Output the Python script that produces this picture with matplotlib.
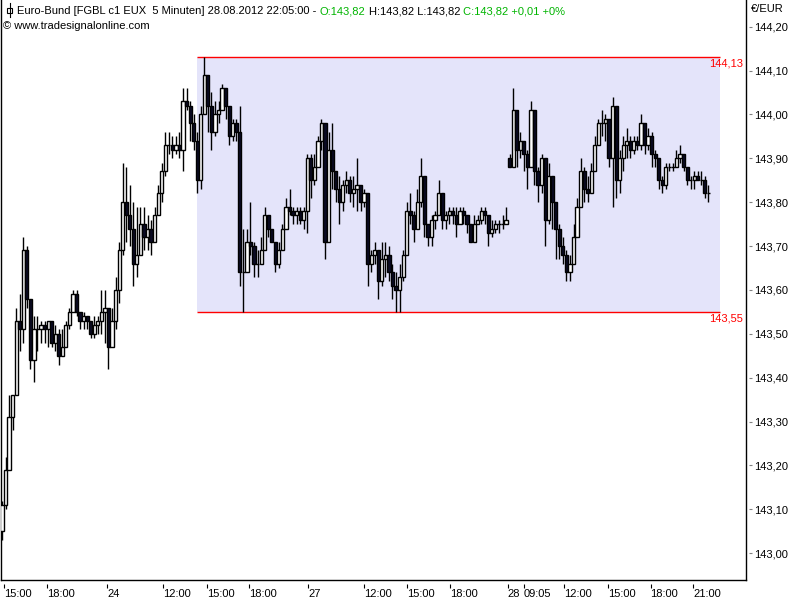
import matplotlib.pyplot as plt
from matplotlib.patches import Rectangle
from matplotlib.lines import Line2D
import numpy as np

plt.rcParams['font.family'] = ['Liberation Sans', 'DejaVu Sans']

# Euro-Bund, 15-min candles from 23.08. 15:00 to 28.08.2012 22:00
first_open = 143.05
open_28 = 143.90      # opening gap on 28.08.
gap_idx = 143

closes = [
    143.11, 143.19, 143.31, 143.36, 143.53, 143.51, 143.69, 143.58, 143.44, 143.51,
    143.51, 143.52, 143.51, 143.53, 143.48, 143.50, 143.45, 143.47, 143.52, 143.55,
    143.59, 143.55, 143.53, 143.54, 143.53, 143.50, 143.52, 143.53, 143.55, 143.56,
    143.47, 143.53, 143.60, 143.69, 143.80, 143.77, 143.74, 143.66, 143.68, 143.75,
    143.72, 143.74, 143.71, 143.77, 143.82, 143.87, 143.93, 143.93, 143.92, 143.93,
    143.92, 144.03, 144.02, 143.98, 143.94, 143.85, 144.00, 144.09, 144.02, 143.96,
    144.00, 144.01, 144.06, 144.02, 143.95, 143.98, 143.96, 143.64, 143.64, 143.71,
    143.70, 143.66, 143.66, 143.69, 143.77, 143.74, 143.71, 143.66, 143.69, 143.74,
    143.79, 143.78, 143.77, 143.78, 143.76, 143.78, 143.90, 143.85, 143.88, 143.94,
    143.98, 143.71, 143.92, 143.87, 143.83, 143.80, 143.84, 143.85, 143.82, 143.83,
    143.84, 143.80, 143.82, 143.66, 143.68, 143.69, 143.62, 143.67, 143.68, 143.64,
    143.61, 143.60, 143.63, 143.68, 143.78, 143.77, 143.74, 143.80, 143.86, 143.75,
    143.72, 143.76, 143.77, 143.82, 143.76, 143.77, 143.78, 143.77, 143.75, 143.78,
    143.77, 143.75, 143.71, 143.75, 143.76, 143.78, 143.77, 143.73, 143.74, 143.75,
    143.75, 143.75, 143.76, 143.88, 144.01, 143.92, 143.94, 143.91, 143.88, 144.01,
    143.87, 143.84, 143.90, 143.76, 143.86, 143.80, 143.74, 143.70, 143.68, 143.64,
    143.66, 143.72, 143.79, 143.87, 143.83, 143.82, 143.87, 143.93, 143.98, 143.98,
    143.99, 143.90, 144.02, 143.85, 143.90, 143.93, 143.94, 143.92, 143.94, 143.93,
    143.98, 143.93, 143.95, 143.91, 143.90, 143.85, 143.84, 143.88, 143.88, 143.88,
    143.90, 143.91, 143.88, 143.85, 143.85, 143.86, 143.85, 143.85, 143.82, 143.82,
]
highs = [
    143.12, 143.22, 143.36, 143.36, 143.56, 143.59, 143.72, 143.70, 143.58, 143.54,
    143.54, 143.53, 143.53, 143.53, 143.53, 143.52, 143.51, 143.51, 143.53, 143.56,
    143.60, 143.60, 143.55, 143.55, 143.54, 143.53, 143.54, 143.54, 143.60, 143.60,
    143.53, 143.56, 143.63, 143.71, 143.89, 143.88, 143.84, 143.80, 143.79, 143.79,
    143.79, 143.77, 143.76, 143.79, 143.84, 143.89, 143.96, 143.96, 143.95, 143.95,
    143.96, 144.06, 144.06, 144.03, 144.00, 143.96, 144.02, 144.13, 144.09, 144.05,
    144.03, 144.03, 144.07, 144.06, 144.02, 143.99, 143.99, 144.02, 143.74, 143.74,
    143.80, 143.71, 143.69, 143.72, 143.79, 143.76, 143.74, 143.71, 143.71, 143.75,
    143.81, 143.83, 143.79, 143.79, 143.79, 143.79, 143.91, 143.91, 143.91, 143.95,
    143.99, 143.94, 143.96, 143.98, 143.86, 143.86, 143.85, 143.87, 143.86, 143.86,
    143.90, 143.83, 143.83, 143.82, 143.69, 143.71, 143.68, 143.71, 143.71, 143.70,
    143.66, 143.64, 143.66, 143.69, 143.80, 143.82, 143.78, 143.83, 143.90, 143.86,
    143.75, 143.77, 143.78, 143.85, 143.82, 143.78, 143.79, 143.79, 143.79, 143.79,
    143.79, 143.77, 143.74, 143.77, 143.77, 143.79, 143.79, 143.77, 143.76, 143.76,
    143.76, 143.77, 143.79, 143.91, 144.06, 143.98, 143.96, 143.94, 143.92, 144.03,
    144.00, 143.88, 143.91, 143.87, 143.89, 143.86, 143.78, 143.75, 143.72, 143.69,
    143.68, 143.75, 143.81, 143.90, 143.88, 143.86, 143.89, 143.95, 143.99, 144.01,
    144.00, 143.98, 144.04, 144.02, 143.92, 143.95, 143.97, 143.95, 143.95, 143.95,
    144.00, 143.98, 143.97, 143.96, 143.92, 143.88, 143.86, 143.89, 143.89, 143.89,
    143.92, 143.93, 143.91, 143.88, 143.86, 143.87, 143.87, 143.87, 143.86, 143.84,
]
lows = [
    143.03, 143.10, 143.23, 143.28, 143.36, 143.46, 143.48, 143.56, 143.42, 143.39,
    143.46, 143.48, 143.48, 143.47, 143.47, 143.46, 143.43, 143.45, 143.47, 143.51,
    143.55, 143.54, 143.51, 143.51, 143.51, 143.49, 143.49, 143.50, 143.50, 143.48,
    143.42, 143.48, 143.51, 143.57, 143.68, 143.71, 143.70, 143.61, 143.63, 143.68,
    143.69, 143.69, 143.68, 143.71, 143.77, 143.80, 143.86, 143.91, 143.90, 143.91,
    143.90, 143.87, 144.01, 143.94, 143.92, 143.82, 143.83, 144.00, 143.96, 143.92,
    143.95, 143.98, 144.01, 143.99, 143.93, 143.94, 143.94, 143.61, 143.55, 143.64,
    143.68, 143.63, 143.63, 143.66, 143.70, 143.72, 143.71, 143.64, 143.65, 143.69,
    143.75, 143.77, 143.75, 143.75, 143.75, 143.74, 143.73, 143.81, 143.84, 143.90,
    143.92, 143.67, 143.79, 143.83, 143.80, 143.75, 143.78, 143.82, 143.80, 143.79,
    143.78, 143.78, 143.79, 143.61, 143.64, 143.66, 143.58, 143.61, 143.63, 143.62,
    143.58, 143.55, 143.55, 143.62, 143.68, 143.75, 143.71, 143.75, 143.79, 143.72,
    143.70, 143.70, 143.74, 143.77, 143.74, 143.74, 143.75, 143.75, 143.72, 143.75,
    143.75, 143.73, 143.71, 143.71, 143.75, 143.75, 143.75, 143.70, 143.72, 143.73,
    143.73, 143.74, 143.75, 143.88, 143.88, 143.88, 143.90, 143.87, 143.83, 143.92,
    143.84, 143.80, 143.82, 143.70, 143.75, 143.74, 143.67, 143.67, 143.66, 143.62,
    143.62, 143.66, 143.72, 143.79, 143.80, 143.80, 143.82, 143.87, 143.93, 143.95,
    143.94, 143.88, 143.79, 143.81, 143.82, 143.87, 143.90, 143.90, 143.91, 143.92,
    143.92, 143.91, 143.92, 143.88, 143.88, 143.83, 143.82, 143.83, 143.87, 143.87,
    143.88, 143.89, 143.87, 143.84, 143.83, 143.83, 143.85, 143.84, 143.81, 143.80,
]

tick_pos = [0.65, 12.76, 29.66, 45.44, 57.66, 69.66, 86.25, 101.97, 114.2, 126.2,
            142.5, 147.0, 158.4, 170.65, 182.7, 194.7]
tick_labels = ['15:00', '18:00', '24', '12:00', '15:00', '18:00', '27', '12:00',
               '15:00', '18:00', '28', '09:05', '12:00', '15:00', '18:00', '21:00']
price_ticks = [143.0, 143.1, 143.2, 143.3, 143.4, 143.5, 143.6,
               143.7, 143.8, 143.9, 144.0, 144.1, 144.2]

# sideways range marked on the chart
range_first = 55
box_start, box_end = 54.9, 202.3

# ---------------------------------------------------------------
c = np.array(closes)
o = np.concatenate([[first_open], c[:-1]])
o[gap_idx] = open_28
h = np.maximum(np.array(highs), np.maximum(o, c))
l = np.minimum(np.array(lows), np.minimum(o, c))
x = np.arange(len(c))

fig = plt.figure(figsize=(8, 6), dpi=100)
ax = fig.add_axes([1 / 800, 20 / 600, 744.7 / 800, 580 / 600])

hi = h[range_first:].max()
lo = l[range_first:].min()
ax.add_patch(Rectangle((box_start, lo), box_end - box_start, hi - lo,
                       facecolor='#e4e4fa', edgecolor='none', zorder=0))
ax.hlines([hi, lo], box_start, box_end, color='red', lw=1.0, zorder=1)
for val, dy in [(hi, -6), (lo, -7)]:
    ax.annotate(f'{val:.2f}'.replace('.', ','), xy=(742 / 744.7, val),
                xycoords=ax.get_yaxis_transform(), xytext=(0, dy * 0.72),
                textcoords='offset points', ha='right', va='center',
                color='red', fontsize=8)

# candles
up = c >= o
ax.vlines(x, l, h, color='black', lw=1.0, zorder=2)
ax.bar(x, np.abs(c - o), bottom=np.minimum(o, c), width=0.9,
       color=np.where(up, 'white', '#0a0a23'), edgecolor='black',
       linewidth=1.0, zorder=3)

ax.set_xlim(-0.28, 209.5)
ax.set_ylim(142.939, 144.2608)

# axes look
ax.spines['top'].set_visible(False)
for s in ['left', 'right', 'bottom']:
    ax.spines[s].set_color('black')
    ax.spines[s].set_linewidth(1.0)

ax.yaxis.tick_right()
ax.set_yticks(price_ticks)
ax.set_yticklabels([f'{p:.2f}'.replace('.', ',') for p in price_ticks])
ax.tick_params(axis='y', length=0, pad=6, labelsize=8)
ax.hlines(price_ticks, 1 + 3.6 / 744.7, 1 + 6.6 / 744.7,
          transform=ax.get_yaxis_transform(), clip_on=False, color='gray', lw=0.8)

ax.set_xticks(tick_pos)
ax.set_xticklabels(tick_labels)
for lab in ax.get_xticklabels():
    lab.set_horizontalalignment('left')
ax.tick_params(axis='x', length=0, pad=6.5, labelsize=8)
ax.vlines(tick_pos, -4 / 580, -7.5 / 580, transform=ax.get_xaxis_transform(),
          clip_on=False, color='black', lw=0.8)

# header
green = '#00b400'
t1 = fig.text(17 / 800, 1 - 11 / 600,
              'Euro-Bund [FGBL c1 EUX  5 Minuten] 28.08.2012 22:05:00 -',
              va='center', fontsize=8)
t2 = ax.annotate('O:143,82', xy=(1, 0), xycoords=t1, xytext=(2.3, 0),
                 textcoords='offset points', va='bottom', color=green,
                 fontsize=8, annotation_clip=False)
t3 = ax.annotate('H:143,82 L:143,82', xy=(1, 0), xycoords=t2, xytext=(2.3, 0),
                 textcoords='offset points', va='bottom', color='black',
                 fontsize=8, annotation_clip=False)
ax.annotate('C:143,82 +0,01 +0%', xy=(1, 0), xycoords=t3, xytext=(2.3, 0),
            textcoords='offset points', va='bottom', color=green,
            fontsize=8, annotation_clip=False)
fig.text(3 / 800, 1 - 26 / 600, '\u00a9 www.tradesignalonline.com',
         va='center', fontsize=8)
fig.text(751 / 800, 1 - 9.5 / 600, '\u20ac/EUR', va='center', fontsize=8)

# little candle icon in front of the header
fig.add_artist(Line2D([9.5 / 800, 9.5 / 800], [1 - 3 / 600, 1 - 17 / 600],
                      color='black', lw=0.8, transform=fig.transFigure))
fig.add_artist(Rectangle((7 / 800, 1 - 13 / 600), 5 / 800, 5 / 600,
                         facecolor='white', edgecolor='black', lw=0.8,
                         transform=fig.transFigure))

fig.savefig('out.png', dpi=100)
